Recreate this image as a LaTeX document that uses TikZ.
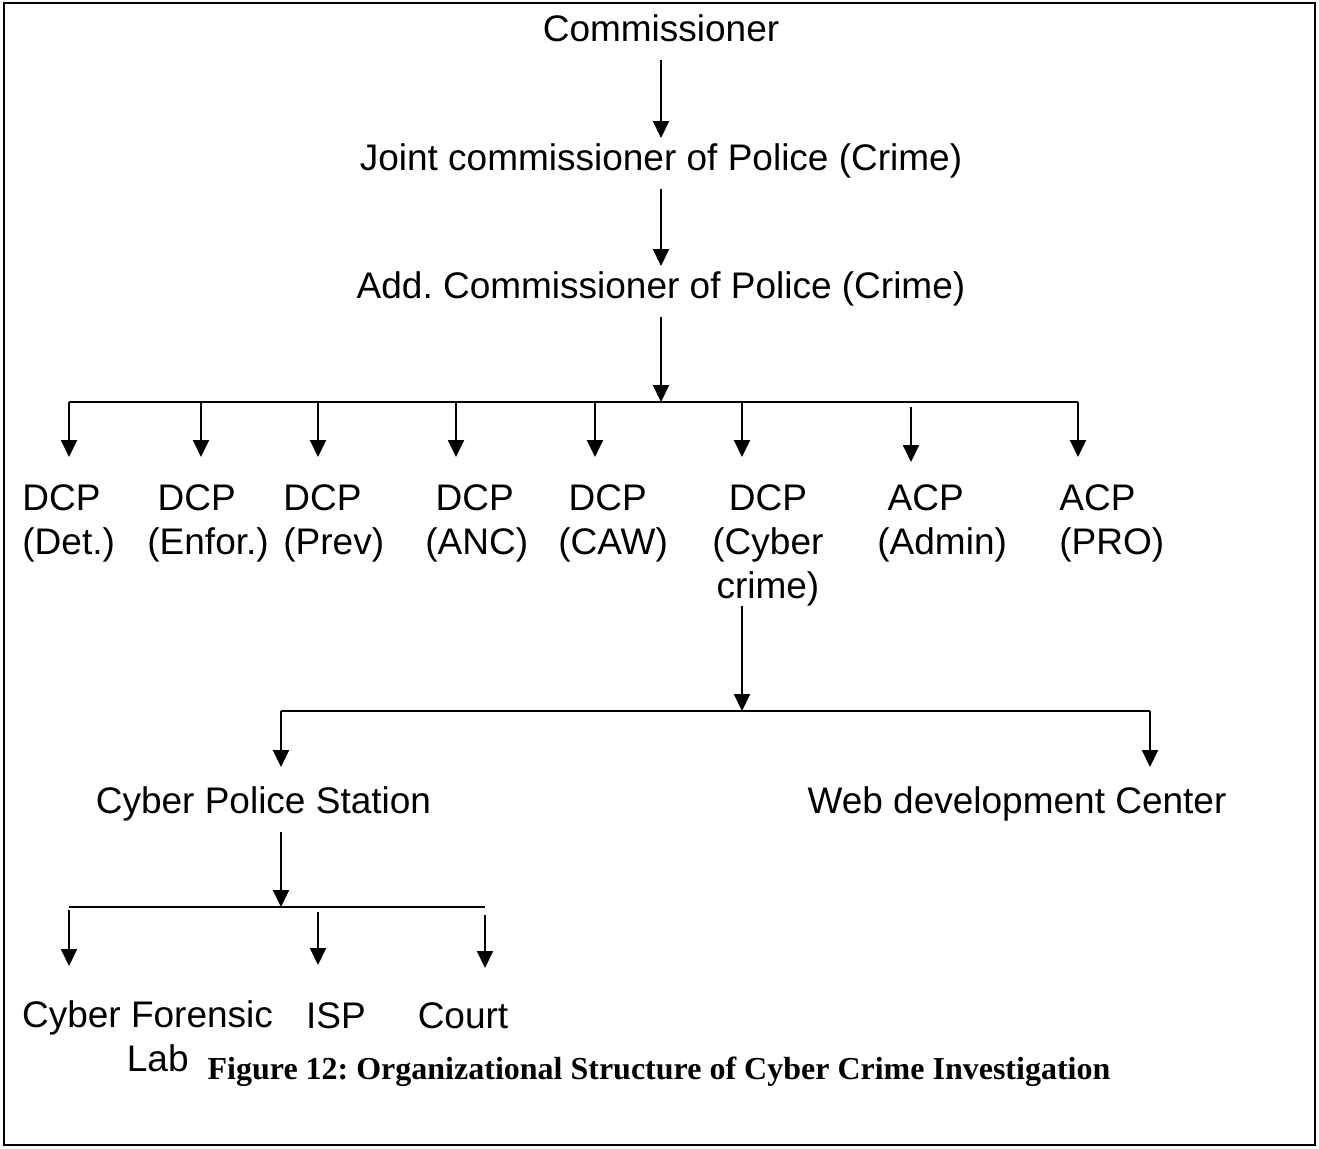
\documentclass[tikz,border=0pt]{standalone}
\usepackage{fontspec}
\setmainfont{Liberation Sans}
\newfontfamily\capfont{Liberation Serif}
\usetikzlibrary{arrows.meta}
\frenchspacing

\tikzset{
  post/.style={font=\fontsize{18.5}{22}\selectfont, inner sep=0pt, outer sep=4pt,
    text height=12pt, text depth=5.5pt, anchor=base},
  rank/.style={font=\fontsize{18.5}{22}\selectfont, inner sep=0pt, align=left, anchor=north west},
  bar/.style={line width=1pt},
  down/.style={line width=1pt, -{Triangle[width=8pt,length=8.5pt]}}
}

\begin{document}
\begin{tikzpicture}[x=0.5pt,y=-0.5pt]
  \useasboundingbox (0,0) rectangle (1319,1148);
  % Frame round the figure
  \draw[line width=1.25pt] (4,3) rectangle (1315,1145);

  % Top of the chain
  \node[post] (comm) at (661,41) {Commissioner};
  \node[post] (jcp) at (661,170) {Joint commissioner of Police (Crime)};
  \node[post] (addcp) at (661,298) {Add. Commissioner of Police (Crime)};
  \draw[down] (comm) -- (jcp);
  \draw[down] (jcp) -- (addcp);

  % First branch line
  \coordinate (j1) at (661,402);
  \coordinate (b1l) at (69,402);
  \coordinate (b1r) at (1078,402);
  \coordinate (row1) at (0,457);
  \draw[down] (addcp) -- (j1);
  \draw[bar] (b1l) -- (b1r);
  \foreach \x in {69,201,318,456,595,742,1078} {
    \coordinate (d) at (\x,402);
    \draw[down] (d) -- (d |- row1);
  }
  \coordinate (admtop) at (911,407);
  \coordinate (admtip) at (911,462);
  \draw[down] (admtop) -- (admtip);

  % DCP and ACP offices
  \node[rank] (det) at (22,484) {DCP\\(Det.)};
  \node[rank] (enf) at (147,484) {\ DCP\\(Enfor.)};
  \node[rank] (prev) at (283,484) {DCP\\(Prev)};
  \node[rank] (anc) at (425,484) {\ DCP\\(ANC)};
  \node[rank] (caw) at (558,484) {\ DCP\\(CAW)};
  \node[rank, align=center] (cyb) at (712,484) {DCP\\(Cyber\\crime)};
  \node[rank] (adm) at (877,484) {\ ACP\\(Admin)};
  \node[rank] (pro) at (1059,484) {ACP\\(PRO)};

  % Second branch line
  \coordinate (j2) at (742,711);
  \coordinate (b2l) at (281,711);
  \coordinate (b2r) at (1150,711);
  \coordinate (row2) at (0,767);
  \draw[down] (cyb.south -| j2) -- (j2);
  \draw[bar] (b2l) -- (b2r);
  \draw[down] (b2l) -- (b2l |- row2);
  \draw[down] (b2r) -- (b2r |- row2);

  \node[post] (cps) at (263.5,813) {Cyber Police Station};
  \node[post] (web) at (1017,813) {Web development Center};

  % Third branch line
  \coordinate (j3) at (281,907);
  \coordinate (b3l) at (69,907);
  \coordinate (b3r) at (485,907);
  \draw[down] (cps.south -| j3) -- (j3);
  \draw[bar] (b3l) -- (b3r);
  \coordinate (labtop) at (69,910);
  \draw[down] (labtop) -- (69,966);
  \coordinate (isptop) at (318,912);
  \draw[down] (isptop) -- (318,965);
  \coordinate (courttop) at (485,915);
  \draw[down] (courttop) -- (485,968);

  \node[rank, align=center, anchor=north] (lab) at (147.5,1000) {Cyber Forensic\\\ \ Lab};
  \node[post] (isp) at (336,1028) {ISP};
  \node[post] (court) at (463,1028) {Court};

  % Caption
  \node[anchor=base, inner sep=0pt, font=\fontsize{16}{19}\capfont\bfseries] (cap) at (659,1079)
    {Figure 12: Organizational Structure of Cyber Crime Investigation};
\end{tikzpicture}
\end{document}
